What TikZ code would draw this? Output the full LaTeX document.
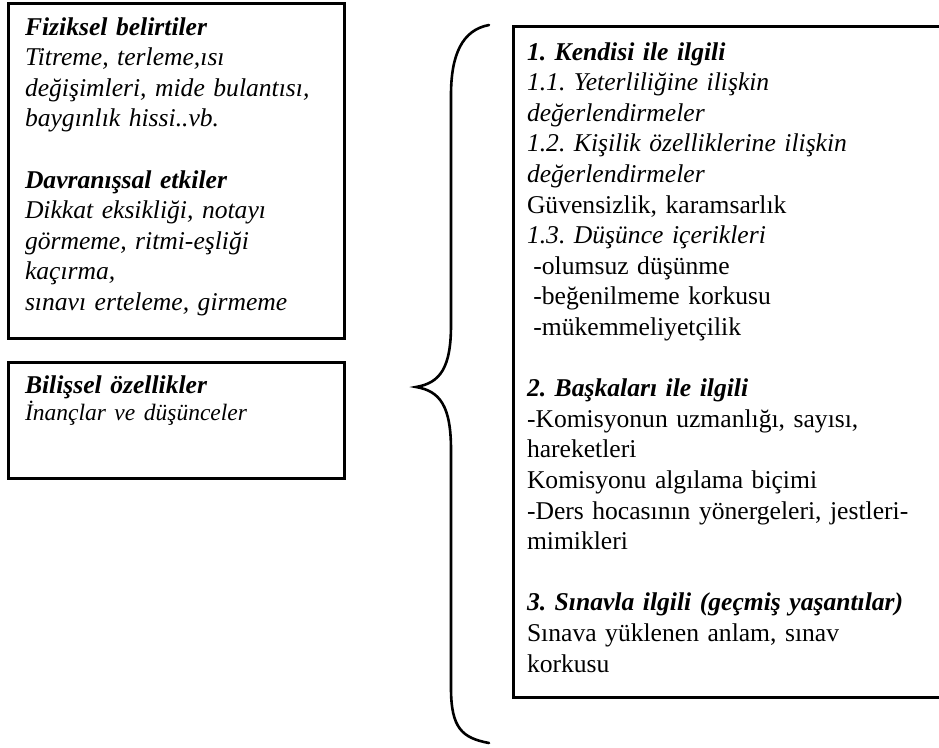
\documentclass[tikz,border=0pt]{standalone}
\usepackage{fontspec}
\setmainfont{Liberation Serif}
\frenchspacing
\begin{document}
\begin{tikzpicture}[x=1pt,y=-1pt,
  boxst/.style={draw,line width=3pt,rectangle,outer sep=0pt,inner sep=0pt,anchor=north west},
  txt/.style={anchor=base west,inner sep=0pt,outer sep=0pt,align=left,text width=#1,
    font=\fontsize{25.6}{30.6}\selectfont\frenchspacing},
  bracest/.style={line width=2.6pt,line cap=round}]
\useasboundingbox (0,0) rectangle (939,747);
\clip (0,0) rectangle (939,747);
% boxes
\node[boxst,minimum width=336pt,minimum height=335pt] (b1) at (8,3) {};
\node[boxst,minimum width=336pt,minimum height=116pt] (b2) at (8,362) {};
\node[boxst,minimum width=460pt,minimum height=671pt] (b3) at (513,26) {};
% brace
\coordinate (bt) at (489,25);
\coordinate (bm) at (416,387);
\coordinate (bb) at (489,743);
\draw[bracest] (bt) .. controls (462,30) and (451,55) .. (451,95) -- (451,325)
  .. controls (451,368) and (440,383) .. (bm)
  .. controls (440,391) and (451,406) .. (451,450) -- (451,688)
  .. controls (451,728) and (462,738) .. (bb);
% texts
\node[txt=310pt] (t1) at (25,35) {%
\textbf{\textit{Fiziksel belirtiler}}\\
\textit{Titreme, terleme,ısı}\\
\textit{değişimleri, mide bulantısı,}\\
\textit{baygınlık hissi..vb.}\\[30.6pt]
\textbf{\textit{Davranışsal etkiler}}\\
\textit{Dikkat eksikliği, notayı}\\
\textit{görmeme, ritmi-eşliği}\\
\textit{kaçırma,}\\
\textit{sınavı erteleme, girmeme}};
\node[txt=310pt] (t2) at (25,393) {%
\textbf{\textit{Bilişsel özellikler}}\\[-3pt]
{\fontsize{23.5}{27}\selectfont\textit{İnançlar ve düşünceler}}};
\node[txt=405pt] (t3) at (527,60) {%
\textbf{\textit{1. Kendisi ile ilgili}}\\
\textit{1.1. Yeterliliğine ilişkin}\\
\textit{değerlendirmeler}\\
\textit{1.2. Kişilik özelliklerine ilişkin}\\
\textit{değerlendirmeler}\\
Güvensizlik, karamsarlık\\
\textit{1.3. Düşünce içerikleri}\\
\hspace*{0.25em}-olumsuz düşünme\\
\hspace*{0.25em}-beğenilmeme korkusu\\
\hspace*{0.25em}-mükemmeliyetçilik\\[30.6pt]
\textbf{\textit{2. Başkaları ile ilgili}}\\
-Komisyonun uzmanlığı, sayısı,\\
hareketleri\\
Komisyonu algılama biçimi\\
-Ders hocasının yönergeleri, jestleri-\\
mimikleri\\[30.6pt]
\textbf{\textit{3. Sınavla ilgili (geçmiş yaşantılar)}}\\
Sınava yüklenen anlam, sınav\\
korkusu};
\end{tikzpicture}
\end{document}
